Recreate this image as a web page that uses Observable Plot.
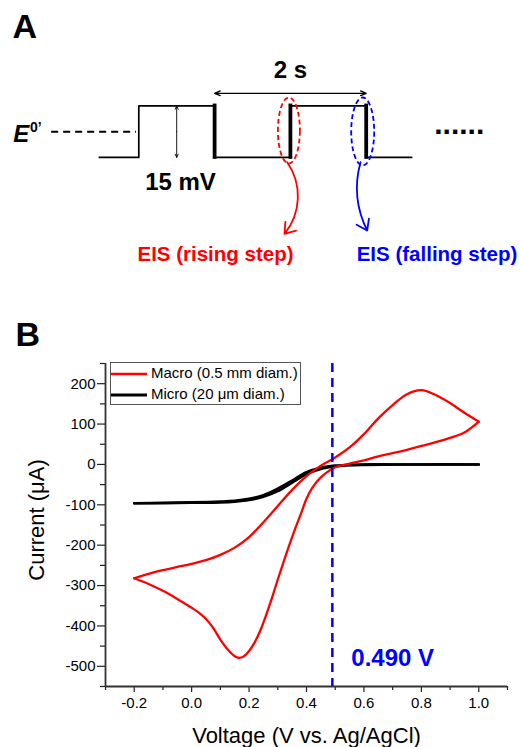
<!DOCTYPE html>
<html><head><meta charset="utf-8">
<script src="https://cdn.jsdelivr.net/npm/d3@7"></script>
<script src="https://cdn.jsdelivr.net/npm/@observablehq/plot@0.6"></script>
<style>
body{margin:0;background:#fff;}
#wrap{position:relative;width:520px;height:747px;overflow:hidden;background:#fff;font-family:"Liberation Sans",Arial,sans-serif;}
#wrap > svg{position:absolute;left:0;}
#legend{position:absolute;left:110px;top:362px;width:189px;height:41px;border:1px solid #555;background:#fff;font-size:15px;color:#000;}
#legend .row{position:absolute;left:0;height:20px;}
#legend .sw{position:absolute;left:0;top:9px;width:36px;}
#legend .lab{position:absolute;left:40px;top:1px;white-space:nowrap;line-height:17px;}
</style></head><body><div id="wrap"></div>
<script>
const FONT = '"Liberation Sans", Arial, sans-serif';

// ================= Panel A : potential step schematic =================
// time (s) and potential (mV relative to E0') of the square wave
const stepTime = [-0.52, 0, 0, 1, 1, 2, 2, 3, 3, 3.6];
const stepPot  = [-7.5, -7.5, 7.5, 7.5, -7.5, -7.5, 7.5, 7.5, -7.5, -7.5];
const sharpEdgeTime = [1, 2, 3];
const stepAmplitude = 15;            // mV
const stepPeriod = 2;                // s
const e0LineTime = [-1.15, -0.03];   // dashed E0' reference line extent
const eisStepTime = [2, 3];          // rising / falling step probed by EIS
const eisLabels = ["EIS (rising step)", "EIS (falling step)"];
const eisColors = ["#ff0000", "#0000ff"];
const eisArrowStart = [[1.958, -8.9], [2.925, -8.9]];
const eisArrowEnd   = [[1.922, -29.8], [3.013, -28.8]];
const eisLabelTime = [1.012, 3.934];

const stepRows = stepTime.map((t, i) => ({t, E: stepPot[i]}));
const half = stepAmplitude / 2;

function ellipseSymbol(rx, ry) {
  const k = 0.5523;
  return {draw(ctx) {
    ctx.moveTo(rx, 0);
    ctx.bezierCurveTo(rx, k * ry, k * rx, ry, 0, ry);
    ctx.bezierCurveTo(-k * rx, ry, -rx, k * ry, -rx, 0);
    ctx.bezierCurveTo(-rx, -k * ry, -k * rx, -ry, 0, -ry);
    ctx.bezierCurveTo(k * rx, -ry, rx, -k * ry, rx, 0);
    ctx.closePath();
  }};
}

const periodLevel = 11.2;
const periodMid = sharpEdgeTime[0] + stepPeriod / 2;
const ampTime = 0.5;

const plotA = Plot.plot({
  width: 520, height: 290, margin: 0,
  x: {domain: [-1.8245, 5.0356], axis: null},
  y: {domain: [-46.3, 38.25], axis: null},
  style: {fontFamily: FONT, background: "transparent", overflow: "visible"},
  marks: [
    Plot.ruleY([0], {x1: e0LineTime[0], x2: e0LineTime[1], stroke: "#000", strokeWidth: 2, strokeDasharray: "7,5"}),
    Plot.line(stepRows, {x: "t", y: "E", stroke: "#000", strokeWidth: 1.7}),
    Plot.ruleX(sharpEdgeTime, {y1: -half, y2: half, stroke: "#000", strokeWidth: 3.8, strokeLinecap: "square"}),
    // 15 mV double arrow
    Plot.arrow([half, -half], {x1: ampTime, y1: 0, x2: ampTime, y2: d => d, stroke: "#000", strokeWidth: 0.9, headLength: 6, headAngle: 50}),
    // 2 s double arrow
    Plot.arrow([sharpEdgeTime[0], sharpEdgeTime[0] + stepPeriod], {x1: periodMid, y1: periodLevel, x2: d => d, y2: periodLevel, stroke: "#000", strokeWidth: 1.3, headLength: 7, headAngle: 45}),
    // dashed ellipses around the probed steps
    Plot.dot([eisStepTime[0]], {x: d => d, y: 0.35, dx: -1.5, r: 10, symbol: ellipseSymbol(11, 33), fill: "none", stroke: eisColors[0], strokeWidth: 1.8, strokeDasharray: "5,3"}),
    Plot.dot([eisStepTime[1]], {x: d => d, y: 0.06, dx: -3.5, r: 10, symbol: ellipseSymbol(11.5, 34), fill: "none", stroke: eisColors[1], strokeWidth: 1.8, strokeDasharray: "5,3"}),
    // curved arrows
    Plot.arrow([0], {x1: eisArrowStart[0][0], y1: eisArrowStart[0][1], x2: eisArrowEnd[0][0], y2: eisArrowEnd[0][1], bend: 37, stroke: eisColors[0], strokeWidth: 1.8, headLength: 10, headAngle: 70}),
    Plot.arrow([0], {x1: eisArrowStart[1][0], y1: eisArrowStart[1][1], x2: eisArrowEnd[1][0], y2: eisArrowEnd[1][1], bend: -21, stroke: eisColors[1], strokeWidth: 1.8, headLength: 10, headAngle: 70}),
    // texts
    Plot.text(["A"], {frameAnchor: "top-left", dx: 12, dy: 13, lineAnchor: "top", textAnchor: "start", fontSize: 34, fontWeight: "bold", fill: "#000"}),
    Plot.text(["E"], {x: -1.657, y: -3.06, lineAnchor: "bottom", textAnchor: "start", fontSize: 24, fontWeight: "bold", fontStyle: "italic", fill: "#000"}),
    Plot.text(["0\u2019"], {x: -1.435, y: -0.15, lineAnchor: "bottom", textAnchor: "start", fontSize: 14, fontWeight: "bold", fill: "#000"}),
    Plot.text([stepAmplitude + " mV"], {x: 0.55, y: -14.8, lineAnchor: "middle", textAnchor: "middle", fontSize: 24, fontWeight: "bold", fill: "#000"}),
    Plot.text([stepPeriod + " s"], {x: periodMid, y: 17.8, lineAnchor: "middle", textAnchor: "middle", fontSize: 24, fontWeight: "bold", fill: "#000"}),
    Plot.text(["......"], {x: 4.228, y: -0.67, lineAnchor: "bottom", textAnchor: "middle", fontSize: 30, fontWeight: "bold", fill: "#000"}),
    Plot.text(eisLabels, {x: (d, i) => eisLabelTime[i], y: -37.8, lineAnchor: "bottom", textAnchor: "middle", fontSize: 20.5, fontWeight: "bold", fill: (d, i) => eisColors[i]})
  ]
});
plotA.style.top = "0px";

// ================= Panel B : cyclic voltammograms =================
// Macro electrode (0.5 mm diam.) forward sweep -0.2 -> 1.0 V
const macroFwdV = [-0.2, -0.15, -0.1, -0.05, 0.0, 0.05, 0.1, 0.15, 0.2, 0.25, 0.3, 0.35, 0.4, 0.45, 0.5, 0.55, 0.6, 0.65, 0.7, 0.75, 0.8, 0.85, 0.9, 0.95, 1.0];
const macroFwdI = [-282, -271, -262, -254, -246, -237, -224, -206, -180, -143, -103, -63, -29, -3, 17, 42, 75, 114, 147, 174, 184, 172, 152, 128, 106];
// Macro electrode reverse sweep 1.0 -> -0.2 V
const macroRevV = [1.0, 0.95, 0.9, 0.85, 0.8, 0.75, 0.7, 0.65, 0.6, 0.55, 0.5, 0.45, 0.42, 0.4, 0.38, 0.36, 0.34, 0.32, 0.3, 0.28, 0.26, 0.24, 0.22, 0.2, 0.18, 0.165, 0.15, 0.125, 0.1, 0.075, 0.05, 0.025, 0.0, -0.05, -0.1, -0.15, -0.2];
const macroRevI = [106, 79, 66, 55, 46, 36, 28, 20, 10, 2, -7, -32, -58, -85, -123, -160, -200, -242, -285, -330, -372, -410, -440, -462, -476, -479, -475, -458, -434, -405, -383, -367, -355, -333, -313, -296, -282];
// Micro electrode (20 um diam.)
const microFwdV = [-0.2, -0.1, 0.0, 0.1, 0.15, 0.2, 0.25, 0.3, 0.35, 0.4, 0.45, 0.5, 0.55, 0.6, 0.7, 0.8, 0.9, 1.0];
const microFwdI = [-96, -95, -94, -92, -90, -85, -76, -60, -40, -19, -8, -3, -1, 0, 0, 0, 0, 0];
const microRevV = [1.0, 0.8, 0.6, 0.55, 0.5, 0.45, 0.4, 0.35, 0.3, 0.25, 0.2, 0.15, 0.1, 0.0, -0.1, -0.2];
const microRevI = [0, 0, -1, -2, -5, -11, -24, -45, -66, -80, -88, -92, -94, -95, -96, -96];

const formalPotential = 0.490; // V
const xTicks = [-0.2, 0.0, 0.2, 0.4, 0.6, 0.8, 1.0];
const xTickLabels = ["-0.2", "0.0", "0.2", "0.4", "0.6", "0.8", "1.0"];
const xMinorTicks = [-0.3, -0.1, 0.1, 0.3, 0.5, 0.7, 0.9, 1.1];
const yTicks = [-500, -400, -300, -200, -100, 0, 100, 200];
const yTickLabels = ["-500", "-400", "-300", "-200", "-100", "0", "100", "200"];
const yMinorTicks = [-550, -450, -350, -250, -150, -50, 50, 150, 250];
const seriesNames = ["Macro (0.5 mm diam.)", "Micro (20 \u03bcm diam.)"];
const seriesColors = ["#ff0000", "#000000"];

const toRows = (V, I, branch) => V.map((v, i) => ({V: v, I: I[i], branch}));
const macroRows = [...toRows(macroFwdV, macroFwdI, "f"), ...toRows(macroRevV, macroRevI, "r")];
const microRows = [...toRows(microFwdV, microFwdI, "f"), ...toRows(microRevV, microRevI, "r")];

const xDomain = [-0.3, 1.1], yDomain = [-550, 250];

const plotB = Plot.plot({
  width: 520, height: 457, marginLeft: 105, marginRight: 13, marginTop: 73, marginBottom: 61,
  x: {domain: xDomain, label: null},
  y: {domain: yDomain, label: null},
  style: {fontFamily: FONT, background: "transparent", overflow: "visible", color: "#000"},
  marks: [
    Plot.axisX({ticks: xTicks, tickFormat: d => xTickLabels[xTicks.indexOf(d)], tickSize: 6, tickPadding: 5, fontSize: 15, label: null, stroke: "#222", strokeWidth: 1.2, fill: "#000"}),
    Plot.axisX({ticks: xMinorTicks, tickFormat: () => "", tickSize: 4, label: null, stroke: "#222", strokeWidth: 1.2}),
    Plot.axisY({ticks: yTicks, tickFormat: d => yTickLabels[yTicks.indexOf(d)], tickSize: 8, tickPadding: 2, fontSize: 15, label: null, stroke: "#222", strokeWidth: 1.2, fill: "#000"}),
    Plot.axisY({ticks: yMinorTicks, tickFormat: () => "", tickSize: 5, label: null, stroke: "#222", strokeWidth: 1.2}),
    Plot.ruleX([xDomain[0]], {stroke: "#333", strokeWidth: 1.8}),
    Plot.ruleY([yDomain[0]], {stroke: "#333", strokeWidth: 1.8}),
    Plot.line(microRows, {x: "V", y: "I", z: "branch", stroke: seriesColors[1], strokeWidth: 2.6, curve: "catmull-rom"}),
    Plot.line(macroRows, {x: "V", y: "I", z: "branch", stroke: seriesColors[0], strokeWidth: 2.3, curve: "catmull-rom", strokeLinejoin: "round"}),
    Plot.ruleX([formalPotential], {stroke: "#0000ff", strokeWidth: 2.5, strokeDasharray: "9,6"}),
    Plot.text([formalPotential.toFixed(3) + " V"], {x: formalPotential, y: -480, dx: 19, textAnchor: "start", lineAnchor: "middle", fontSize: 24, fontWeight: "bold", fill: "#0000ff"}),
    Plot.text(["Current (\u03bcA)"], {frameAnchor: "left", dx: -69, dy: -5, rotate: -90, textAnchor: "middle", lineAnchor: "middle", fontSize: 22, fill: "#000"}),
    Plot.text(["Voltage (V vs. Ag/AgCl)"], {frameAnchor: "bottom", dy: 56, textAnchor: "middle", lineAnchor: "bottom", fontSize: 22, fill: "#000"}),
    Plot.text(["B"], {frameAnchor: "top-left", dx: -90, dy: -41.5, lineAnchor: "top", textAnchor: "start", fontSize: 34, fontWeight: "bold", fill: "#000"})
  ]
});
plotB.style.top = "290px";

const wrap = document.getElementById("wrap");
wrap.appendChild(plotA);
wrap.appendChild(plotB);

// legend
const legend = document.createElement("div");
legend.id = "legend";
seriesNames.forEach((name, i) => {
  const row = document.createElement("div");
  row.className = "row";
  row.style.top = (i * 21) + "px";
  row.innerHTML = `<svg class="sw" width="36" height="4"><line x1="0" x2="36" y1="2" y2="2" stroke="${seriesColors[i]}" stroke-width="${i ? 2.8 : 2.3}"/></svg><span class="lab">${name}</span>`;
  legend.appendChild(row);
});
wrap.appendChild(legend);
</script></body></html>
